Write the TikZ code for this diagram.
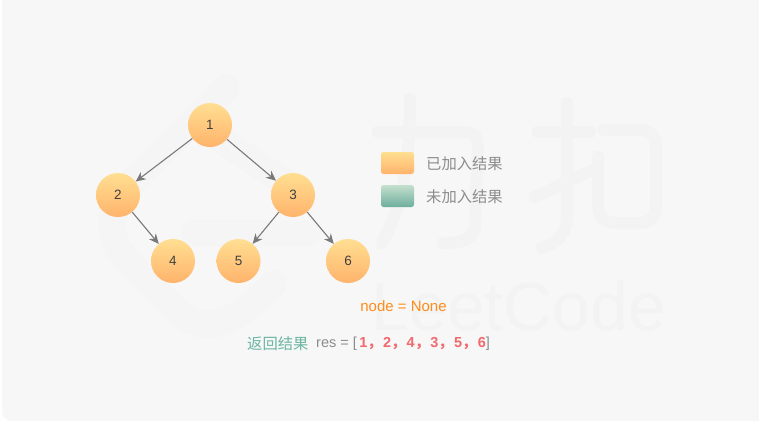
\documentclass[tikz,border=0pt]{standalone}
\usepackage{fontspec}
\setmainfont{Liberation Sans}
\newfontfamily\cjk{Noto Sans CJK SC}
\usetikzlibrary{arrows.meta}
\definecolor{panelbg}{HTML}{F7F7F7}
\definecolor{markgray}{HTML}{F3F3F3}
\definecolor{arrowgray}{HTML}{7A7A7A}
\definecolor{labelgray}{HTML}{8C8C8C}
\definecolor{nodetop}{HTML}{FFDF92}
\definecolor{nodebot}{HTML}{FFB36B}
\definecolor{greentop}{HTML}{C5DFCE}
\definecolor{greenbot}{HTML}{6DAE9C}
\definecolor{resgreen}{HTML}{6BB5A2}
\definecolor{resred}{HTML}{F2686C}
\definecolor{noneorange}{HTML}{FF8C1A}
\newcommand\resitem[1]{\makebox[23.7pt][l]{#1{\cjk，}}}
\tikzset{
  treenode/.style={circle,minimum size=44pt,inner sep=0pt,top color=nodetop,bottom color=nodebot,text=black!75,font=\fontsize{13.5}{15}\selectfont},
  edge/.style={draw=arrowgray,line width=1.1pt,-{Stealth[length=10pt,width=9pt]}},
  legendbox/.style={rounded corners=2.5pt,minimum width=33pt,minimum height=22pt,inner sep=0pt},
  legendtext/.style={text=labelgray,anchor=west,inner sep=0pt,font=\fontsize{15.3}{18}\selectfont\cjk},
  markline/.style={draw=markgray,line width=12pt,line cap=round,line join=round},
  logoline/.style={markline,line width=27pt,draw=markgray!60!panelbg}
}
\begin{document}
\begin{tikzpicture}[x=1pt,y=1pt,yscale=-1]
\useasboundingbox (0,0) rectangle (759,421);
% panel
\fill[white] (0,0) rectangle (759,421);
\fill[panelbg,rounded corners=10pt] (2,-12) rectangle (771,421);

% watermark, logo
\draw[logoline] (226,88) -- (125,190) .. controls (108,208) and (108,240) .. (125,258) -- (178,312) .. controls (205,336) and (235,325) .. (273,284);
\draw[logoline] (195,122) -- (296,190);
\draw[logoline] (195,233) -- (307,233);

% watermark, two signs
\draw[markline] (378,132) -- (465,132) .. controls (474,132) and (478,138) .. (478,146) -- (475,225) .. controls (474,238) and (465,243) .. (443,243);
\draw[markline] (410,99) .. controls (410,170) and (400,210) .. (382,243);
\draw[markline] (567,103) -- (567,215) .. controls (567,235) and (556,243) .. (542,248);
\draw[markline] (538,132) -- (590,132);
\draw[markline] (535,197) -- (592,170);
\draw[markline] (604,130) -- (638,130) .. controls (650,130) and (656,136) .. (656,148) -- (656,204) .. controls (656,217) and (650,223) .. (638,223) -- (618,223) .. controls (604,223) and (598,217) .. (598,204) -- (598,157);
\node[text=markgray,inner sep=0pt,font=\fontsize{68}{70}\selectfont] (wordmark) at (519,306) {LeetCode};

% tree
\node[treenode] (n1) at (210,125) {1};
\node[treenode] (n2) at (118,195) {2};
\node[treenode] (n3) at (293,195) {3};
\node[treenode] (n4) at (173,261) {4};
\node[treenode] (n5) at (238.5,261) {5};
\node[treenode] (n6) at (348,261) {6};
\draw[edge] (n1) -- (n2);
\draw[edge] (n1) -- (n3);
\draw[edge] (n2) -- (n4);
\draw[edge] (n3) -- (n5);
\draw[edge] (n3) -- (n6);

% legend
\node[legendbox,top color=nodetop,bottom color=nodebot] (doneBox) at (397.5,163) {};
\node[legendbox,top color=greentop,bottom color=greenbot] (todoBox) at (397.5,196) {};
\node[legendtext] (doneText) at (426,164) {已加入结果};
\node[legendtext] (todoText) at (426,197) {未加入结果};

% result
\node[text=noneorange,inner sep=0pt,font=\fontsize{15}{17}\selectfont] (noneText) at (403.5,306) {node = None};
\node[text=resgreen,inner sep=0pt,anchor=west,font=\fontsize{15.3}{18}\selectfont\cjk] (resTitle) at (247,344) {返回结果};
\node[text=labelgray,inner sep=0pt,anchor=west,font=\fontsize{14.5}{16}\selectfont] (resText) at (316,344) {res = [\,\textcolor{resred}{\bfseries \resitem{1}\resitem{2}\resitem{4}\resitem{3}\resitem{5}6}]};
\end{tikzpicture}
\end{document}
